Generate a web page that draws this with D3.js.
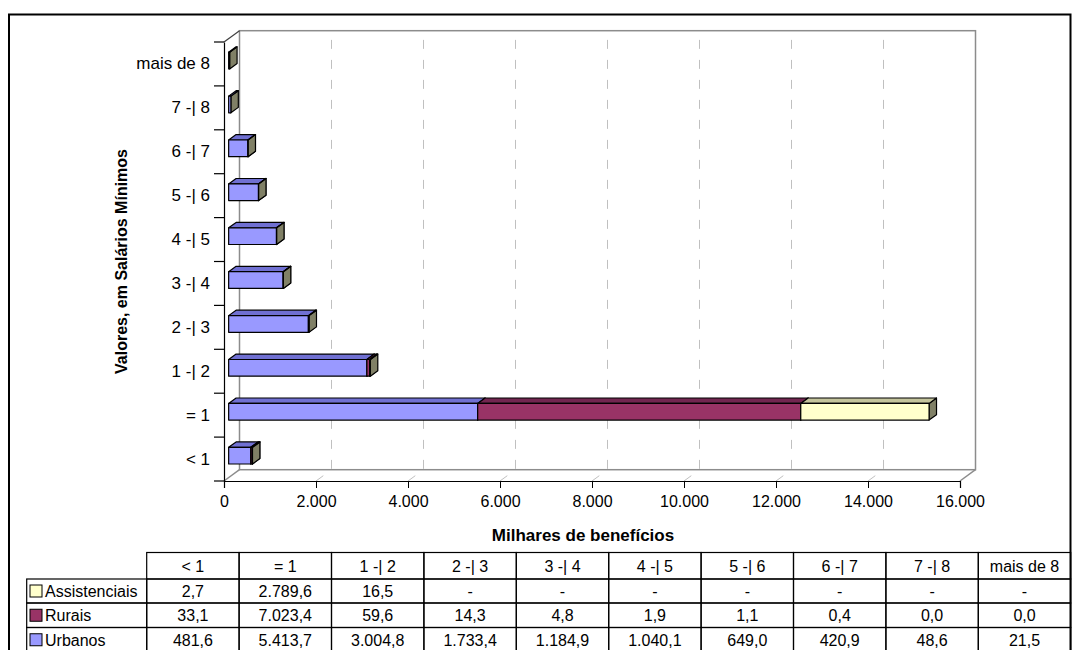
<!DOCTYPE html>
<html>
<head>
<meta charset="utf-8">
<script src="https://cdn.jsdelivr.net/npm/d3@7"></script>
<style>
  body { margin: 0; background: #fff; }
  text { font-family: Arial, "Liberation Sans", sans-serif; fill: #000; }
</style>
</head>
<body>
<div id="chart"></div>
<script>
// Beneficios por faixa de valor (milhares)
var categories = ["< 1", "= 1", "1 -| 2", "2 -| 3", "3 -| 4", "4 -| 5", "5 -| 6", "6 -| 7", "7 -| 8", "mais de 8"];
var urbanos = [481.6, 5413.7, 3004.8, 1733.4, 1184.9, 1040.1, 649.0, 420.9, 48.6, 21.5];
var rurais = [33.1, 7023.4, 59.6, 14.3, 4.8, 1.9, 1.1, 0.4, 0.0, 0.0];
var assistenciais = [2.7, 2789.6, 16.5, null, null, null, null, null, null, null];
var seriesNames = ["Urbanos", "Rurais", "Assistenciais"];
var xTicks = [0, 2000, 4000, 6000, 8000, 10000, 12000, 14000, 16000];

var colors = {Urbanos: "#9999ff", Rurais: "#993366", Assistenciais: "#ffffcc"};
var topColors = {Urbanos: "#7070d2", Rurais: "#722650", Assistenciais: "#c4c49c"};
var sideColor = "#808066";

var ptBR = d3.formatLocale({decimal: ",", thousands: ".", grouping: [3], currency: ["R$", ""]});
var fmtTick = ptBR.format(",.0f");
var fmtVal = ptBR.format(",.1f");

var rows = categories.map(function(c, i) {
  return {cat: c, Urbanos: urbanos[i], Rurais: rurais[i], Assistenciais: assistenciais[i] || 0};
});

var svg = d3.select("#chart").append("svg")
  .attr("width", 1072)
  .attr("height", 650);

// outer frame
svg.append("rect")
  .attr("x", 9).attr("y", 14.5)
  .attr("width", 1061.5).attr("height", 660)
  .attr("fill", "none").attr("stroke", "#000").attr("stroke-width", 2);

// 3D projection: front plane + depth offset
var DX = 15.5, DY = -11.3;
var z1 = 0.3, z2 = 0.78;

var x = d3.scaleLinear().domain([0, 16000]).range([224, 960]);
var y = d3.scaleBand().domain(categories).range([481, 42]);
var barH = y.step() * 0.38;

function P(v, yy, z) {
  return [x(v) + z * DX, yy + z * DY];
}
function poly(pts) {
  return pts.map(function(p) { return p[0] + "," + p[1]; }).join(" ");
}

var y0 = 481, yTop = 42;

// back wall
var bw0 = P(0, yTop, 1), bw1 = P(16000, y0, 1);
svg.append("rect")
  .attr("x", bw0[0]).attr("y", bw0[1])
  .attr("width", bw1[0] - bw0[0]).attr("height", bw1[1] - bw0[1])
  .attr("fill", "#fff").attr("stroke", "#8c8c8c").attr("stroke-width", 1.5);

// floor edges
svg.append("line")
  .attr("x1", x(0)).attr("y1", y0)
  .attr("x2", P(0, y0, 1)[0]).attr("y2", P(0, y0, 1)[1])
  .attr("stroke", "#8c8c8c").attr("stroke-width", 1.5);
svg.append("line")
  .attr("x1", x(16000)).attr("y1", y0)
  .attr("x2", P(16000, y0, 1)[0]).attr("y2", P(16000, y0, 1)[1])
  .attr("stroke", "#8c8c8c").attr("stroke-width", 1.5);
svg.append("line")
  .attr("x1", x(0)).attr("y1", yTop)
  .attr("x2", P(0, yTop, 1)[0]).attr("y2", P(0, yTop, 1)[1])
  .attr("stroke", "#404040").attr("stroke-width", 1.2);

// dashed gridlines (floor diagonal + back wall vertical)
var grid = svg.append("g").attr("class", "grid");
xTicks.slice(1, -1).forEach(function(t) {
  var a = P(t, y0, 0), b = P(t, y0, 1), c = P(t, yTop, 1);
  grid.append("polyline")
    .attr("points", poly([a, b, c]))
    .attr("fill", "none")
    .attr("stroke", "#c0c0c0")
    .attr("stroke-width", 1)
    .attr("stroke-dasharray", "9,11");
});

// stacked 3D bars
var stack = d3.stack().keys(seriesNames)(rows);
var bars = svg.append("g").attr("class", "bars");
stack.forEach(function(layer) {
  var name = layer.key;
  layer.forEach(function(d, i) {
    var v0 = d[0], v1 = d[1];
    if (v1 - v0 <= 0 && name !== "Urbanos") return;
    var yc = y(categories[i]) + y.bandwidth() / 2;
    var t = yc - barH / 2, b = yc + barH / 2;
    var g = bars.append("g")
      .attr("stroke", "#000").attr("stroke-width", 1.2).attr("stroke-linejoin", "round");
    g.append("polygon")
      .attr("points", poly([P(v1, t, z1), P(v1, t, z2), P(v1, b, z2), P(v1, b, z1)]))
      .attr("fill", sideColor);
    g.append("polygon")
      .attr("points", poly([P(v0, t, z1), P(v1, t, z1), P(v1, t, z2), P(v0, t, z2)]))
      .attr("fill", topColors[name]);
    g.append("polygon")
      .attr("points", poly([P(v0, t, z1), P(v1, t, z1), P(v1, b, z1), P(v0, b, z1)]))
      .attr("fill", colors[name]);
  });
});

// axes
var xAxis = d3.axisBottom(x).tickValues(xTicks).tickSize(7).tickPadding(8).tickFormat(fmtTick);
var xg = svg.append("g")
  .attr("transform", "translate(0," + y0 + ")")
  .call(xAxis);
xg.selectAll("text").attr("font-size", "16px").attr("font-family", "Arial, 'Liberation Sans', sans-serif");
xg.select(".domain").attr("stroke-width", 1.2);

var yAxis = d3.axisLeft(y).tickSize(0).tickPadding(14);
var yg = svg.append("g")
  .attr("transform", "translate(" + x(0) + ",0)")
  .call(yAxis);
yg.selectAll("text").attr("font-size", "17px").attr("font-family", "Arial, 'Liberation Sans', sans-serif");
yg.select(".domain").attr("stroke-width", 1.2);
// ticks between categories
var bounds = categories.map(function(c) { return y(c); }).concat([y0]);
yg.selectAll(".sep").data(bounds).enter().append("line")
  .attr("x1", -10).attr("x2", 0)
  .attr("y1", function(d) { return d; }).attr("y2", function(d) { return d; })
  .attr("stroke", "#000").attr("stroke-width", 1.2);

// titles
svg.append("text")
  .text("Milhares de benefícios")
  .attr("x", 583).attr("y", 541)
  .attr("text-anchor", "middle")
  .attr("font-size", "17px").attr("font-weight", "bold");

svg.append("text")
  .text("Valores, em Salários Mínimos")
  .attr("transform", "translate(127," + ((y0 + yTop) / 2) + ") rotate(-90)")
  .attr("text-anchor", "middle")
  .attr("font-size", "16px").attr("font-weight", "bold");

// data table
var colX = d3.scaleBand().domain(categories).range([146.7, 1070.7]);
var rowTops = [552.5, 579, 603, 627.5, 652];
var table = svg.append("g").attr("class", "table");
var tableRows = [
  {name: "Assistenciais", values: assistenciais},
  {name: "Rurais", values: rurais},
  {name: "Urbanos", values: urbanos}
];

// header
categories.forEach(function(c) {
  table.append("rect")
    .attr("x", colX(c)).attr("y", rowTops[0])
    .attr("width", colX.bandwidth()).attr("height", rowTops[1] - rowTops[0])
    .attr("fill", "none").attr("stroke", "#000").attr("stroke-width", 1.2);
  table.append("text")
    .text(c)
    .attr("x", colX(c) + colX.bandwidth() / 2)
    .attr("y", (rowTops[0] + rowTops[1]) / 2 + 6)
    .attr("text-anchor", "middle").attr("font-size", "16px");
});

tableRows.forEach(function(r, ri) {
  var top = rowTops[ri + 1], bot = rowTops[ri + 2];
  var mid = (top + bot) / 2;
  table.append("rect")
    .attr("x", 26.7).attr("y", top)
    .attr("width", 146.7 - 26.7).attr("height", bot - top)
    .attr("fill", "none").attr("stroke", "#000").attr("stroke-width", 1.2);
  table.append("rect")
    .attr("x", 30).attr("y", mid - 6)
    .attr("width", 12).attr("height", 12)
    .attr("fill", colors[r.name]).attr("stroke", "#000").attr("stroke-width", 1);
  table.append("text")
    .text(r.name)
    .attr("x", 45).attr("y", mid + 6)
    .attr("font-size", "16px");
  categories.forEach(function(c, i) {
    var v = r.values[i];
    table.append("rect")
      .attr("x", colX(c)).attr("y", top)
      .attr("width", colX.bandwidth()).attr("height", bot - top)
      .attr("fill", "none").attr("stroke", "#000").attr("stroke-width", 1.2);
    table.append("text")
      .text(v == null ? "-" : fmtVal(v))
      .attr("x", colX(c) + colX.bandwidth() / 2)
      .attr("y", mid + 6)
      .attr("text-anchor", "middle").attr("font-size", "16px");
  });
});
</script>
</body>
</html>
